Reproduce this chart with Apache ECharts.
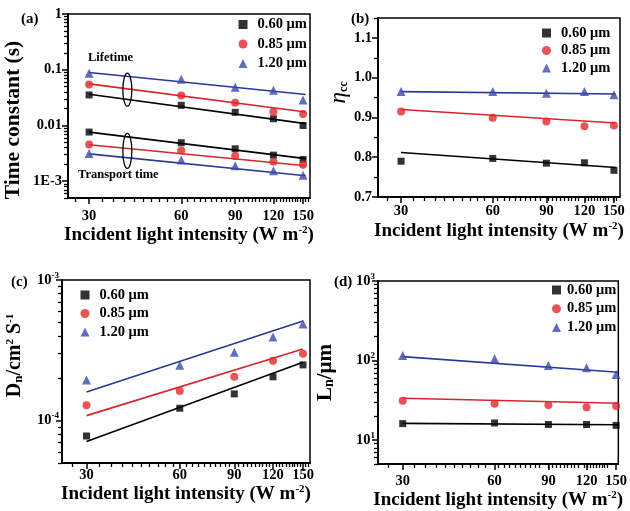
<!DOCTYPE html>
<html><head><meta charset="utf-8">
<script src="https://cdn.jsdelivr.net/npm/echarts@6/dist/echarts.min.js"></script>
<style>html,body{margin:0;padding:0;background:#fff}#c{width:630px;height:511px}</style>
</head><body><div id="c"></div><script>
// ---------- data ----------
const intensity = [30, 60, 90, 120, 150];
const xTickLabels = [30, 60, 90, 120, 150];
const seriesNames = ['0.60 \u03bcm', '0.85 \u03bcm', '1.20 \u03bcm'];

// (a) time constants (s)
const aLife060 = [0.0353, 0.0230, 0.0172, 0.0132, 0.0100];
const aLife085 = [0.0542, 0.0344, 0.0257, 0.0177, 0.0161];
const aLife120 = [0.0867, 0.0676, 0.0486, 0.0429, 0.0287];
const aTrans060 = [0.00762, 0.00490, 0.00382, 0.00294, 0.00245];
const aTrans085 = [0.00457, 0.00356, 0.00282, 0.00224, 0.00197];
const aTrans120 = [0.00315, 0.00240, 0.00190, 0.00154, 0.00128];
const aFitX = [30, 153];
const aFitLife060 = [0.0363, 0.0108];
const aFitLife085 = [0.0557, 0.0175];
const aFitLife120 = [0.089, 0.0360];
const aFitTrans060 = [0.0076, 0.00254];
const aFitTrans085 = [0.00452, 0.00190];
const aFitTrans120 = [0.0031, 0.00125];
const aYLabels = [0.001, 0.01, 0.1, 1];

// (b) charge collection efficiency
const b060 = [0.790, 0.797, 0.785, 0.786, 0.767];
const b085 = [0.915, 0.899, 0.890, 0.878, 0.880];
const b120 = [0.965, 0.965, 0.961, 0.965, 0.957];
const bFitX = [30, 152];
const bFit060 = [0.812, 0.774];
const bFit085 = [0.920, 0.886];
const bFit120 = [0.965, 0.959];

// (c) diffusion coefficient
const c060 = [7.78e-5, 1.225e-4, 1.55e-4, 2.05e-4, 2.49e-4];
const c085 = [1.285e-4, 1.626e-4, 2.05e-4, 2.67e-4, 2.99e-4];
const c120 = [1.945e-4, 2.48e-4, 3.07e-4, 3.94e-4, 4.87e-4];
const cFitX = [30, 150];
const cFit060 = [7.1e-5, 2.6e-4];
const cFit085 = [1.086e-4, 3.23e-4];
const cFit120 = [1.6e-4, 5.12e-4];
const cYLabels = [1e-4, 1e-3];

// (d) diffusion length
const d060 = [16.1, 16.4, 15.7, 15.7, 15.3];
const d085 = [31.3, 28.7, 27.6, 25.8, 26.8];
const d120 = [115.6, 105, 86.5, 81, 66.5];
const dFitX = [30, 152];
const dFit060 = [16.2, 15.6];
const dFit085 = [33.5, 29.0];
const dFit120 = [112, 71.3];
const dYLabels = [10, 100, 1000];

// ---------- style ----------
const F = '"Liberation Serif", "DejaVu Serif", serif';
const BLACK = '#000000', RED = '#e3282c', BLUE = '#3b48ad';
const RED_L = '#d4262a', BLUE_L = '#2c3896';
const colors = [BLACK, RED, BLUE];
const lineColors = [BLACK, RED_L, BLUE_L];
const symbols = ['rect', 'circle', 'triangle'];
const sizes = [7, 8, 9];

const grids = [
  {left: 68, top: 14, width: 242, height: 184},
  {left: 378, top: 18, width: 242, height: 179},
  {left: 62, top: 280, width: 248, height: 183},
  {left: 378, top: 281, width: 242, height: 183}
];
const xRanges = [[25.6, 158], [25.2, 157], [25, 158], [24.9, 152.5]];

// minor tick positions
const xMinor = [];
for (let v = 27; v <= 159; v += 3) if (v % 30 !== 0) xMinor.push(v);
function logMinors(lo, hi) {
  const out = [];
  for (let e = -6; e <= 4; e++) for (let m = 2; m <= 9; m++) {
    const v = m * Math.pow(10, e);
    if (v >= lo * 0.999 && v <= hi * 1.001) out.push(v);
  }
  return out;
}

const axisLineStyle = {color: '#000', width: 1.5};
const minorTickStyle = {color: '#000', width: 1.3};
const xName = '{t|Incident light intensity (W m}{s|-2}{t|)}';
const xNameRich = {
  t: {fontFamily: F, fontWeight: 'bold', fontSize: 19, color: '#000'},
  s: {fontFamily: F, fontWeight: 'bold', fontSize: 11, color: '#000', verticalAlign: 'top', padding: [0, 0, 10, 0]}
};
const xLabelMargins = [11, 7, 5, 10];
const xNameGaps = [23, 24, 18, 25];

const xAxes = [], yAxes = [];
// minor-tick axes first (grids 0-3), main axes after (grids 4-7)
for (let i = 0; i < 4; i++) {
  xAxes.push({
    type: 'log', gridIndex: i, min: xRanges[i][0], max: xRanges[i][1],
    axisLine: {lineStyle: {color: '#000', width: 1.5}},
    axisTick: {length: 4, customValues: xMinor, lineStyle: minorTickStyle},
    axisLabel: {color: 'rgba(0,0,0,0)'}, splitLine: {show: false}
  });
}
for (let i = 0; i < 4; i++) {
  xAxes.push({
    type: 'log', logBase: 10, gridIndex: 4 + i, min: xRanges[i][0], max: xRanges[i][1],
    axisLine: {show: true, onZero: false, lineStyle: axisLineStyle},
    axisTick: {show: true, inside: false, length: 6, customValues: xTickLabels, lineStyle: axisLineStyle},
    axisLabel: {show: true, customValues: xTickLabels, margin: xLabelMargins[i],
      formatter: v => String(Math.round(v)),
      color: '#000', fontFamily: F, fontWeight: 'bold', fontSize: 14.5},
    splitLine: {show: false}, minorTick: {show: false},
    name: xName, nameLocation: 'middle', nameGap: xNameGaps[i],
    nameTextStyle: {rich: xNameRich}
  });
}

// minor y axes
const yMinorDefs = [
  {type: 'log', min: 5e-4, max: 1, ticks: logMinors(5e-4, 1)},
  {type: 'value', min: 0.7, max: 1.15, ticks: [0.75, 0.85, 0.95, 1.05, 1.15]},
  {type: 'log', min: 5e-5, max: 1e-3, ticks: logMinors(5e-5, 1e-3)},
  {type: 'log', min: 5, max: 1000, ticks: logMinors(5, 1000)}
];
yMinorDefs.forEach((d, i) => {
  yAxes.push({
    type: d.type, gridIndex: i, min: d.min, max: d.max,
    axisLine: {lineStyle: {color: '#000', width: 1.5}},
    axisTick: {length: 4, customValues: d.ticks, lineStyle: minorTickStyle},
    axisLabel: {color: 'rgba(0,0,0,0)'}, splitLine: {show: false}
  });
});

const yLabelStyle = {color: '#000', fontFamily: F, fontWeight: 'bold', fontSize: 14.5};
const supRich = {
  b: {fontFamily: F, fontWeight: 'bold', fontSize: 14.5, color: '#000'},
  p: {fontFamily: F, fontWeight: 'bold', fontSize: 9, color: '#000', verticalAlign: 'top', padding: [0, 0, 9, 0]}
};
function powLabel(v) {
  const e = Math.round(Math.log10(v));
  return '{b|10}{p|' + e + '}';
}

// (a)
yAxes.push({
  type: 'log', logBase: 10, gridIndex: 4, min: 5e-4, max: 1,
  axisLine: {show: true, onZero: false, lineStyle: axisLineStyle},
  axisTick: {show: true, inside: false, length: 6, customValues: aYLabels, lineStyle: axisLineStyle},
  axisLabel: Object.assign({customValues: aYLabels, margin: 6, formatter: v => {
    const e = Math.round(Math.log10(v));
    return e === 0 ? '1' : e === -1 ? '0.1' : e === -2 ? '0.01' : '1E' + e;
  }}, yLabelStyle),
  splitLine: {show: false},
  name: 'Time constant (s)', nameLocation: 'middle', nameGap: 44,
  nameTextStyle: {fontFamily: F, fontWeight: 'bold', fontSize: 21.5, color: '#000', padding: [0, 28, 0, 0]}
});
// (b)
yAxes.push({
  type: 'value', gridIndex: 5, min: 0.7, max: 1.15, interval: 0.1,
  axisLine: {show: true, onZero: false, lineStyle: axisLineStyle},
  axisTick: {show: true, inside: false, length: 6, lineStyle: axisLineStyle},
  axisLabel: Object.assign({margin: 6, formatter: v => v.toFixed(1), showMaxLabel: false}, yLabelStyle),
  splitLine: {show: false},
  name: '{e|\u03b7}{s|cc}', nameLocation: 'middle', nameGap: 24,
  nameTextStyle: {padding: [0, 0, 0, 30], rich: {
    e: {fontFamily: F, fontStyle: 'italic', fontSize: 23, color: '#000'},
    s: {fontFamily: F, fontWeight: 'bold', fontSize: 12, color: '#000', verticalAlign: 'bottom', padding: [7, 0, 0, 0]}
  }}
});
// (c)
yAxes.push({
  type: 'log', logBase: 10, gridIndex: 6, min: 5e-5, max: 1e-3,
  axisLine: {show: true, onZero: false, lineStyle: axisLineStyle},
  axisTick: {show: true, inside: false, length: 6, customValues: cYLabels, lineStyle: axisLineStyle},
  axisLabel: {customValues: cYLabels, margin: 3, formatter: powLabel, rich: supRich},
  splitLine: {show: false},
  name: '{t|D}{s|n}{t|/cm}{p|2}{t| S}{p|-1}', nameLocation: 'middle', nameGap: 37,
  nameTextStyle: {padding: [0, 0, 0, 32], rich: {
    t: {fontFamily: F, fontWeight: 'bold', fontSize: 20, color: '#000'},
    s: {fontFamily: F, fontWeight: 'bold', fontSize: 13, color: '#000', verticalAlign: 'bottom', padding: [7, 0, 0, 0]},
    p: {fontFamily: F, fontWeight: 'bold', fontSize: 11, color: '#000', verticalAlign: 'top', padding: [0, 0, 9, 0]}
  }}
});
// (d)
yAxes.push({
  type: 'log', logBase: 10, gridIndex: 7, min: 5, max: 1000,
  axisLine: {show: true, onZero: false, lineStyle: axisLineStyle},
  axisTick: {show: true, inside: false, length: 6, customValues: dYLabels, lineStyle: axisLineStyle},
  axisLabel: {customValues: dYLabels, margin: 3, formatter: powLabel, rich: supRich},
  splitLine: {show: false},
  name: '{t|L}{s|n}{t|/\u03bcm}', nameLocation: 'middle', nameGap: 42,
  nameTextStyle: {rich: {
    t: {fontFamily: F, fontWeight: 'bold', fontSize: 21, color: '#000'},
    s: {fontFamily: F, fontWeight: 'bold', fontSize: 14, color: '#000', verticalAlign: 'bottom', padding: [7, 0, 0, 0]}
  }}
});

const allGrids = grids.map(g => Object.assign({}, g))
  .concat(grids.map(g => Object.assign({show: true, borderColor: '#000', borderWidth: 1.5, backgroundColor: 'transparent'}, g)));

// ---------- series ----------
const series = [];
function addScatter(p, k, ys) {
  series.push({
    type: 'scatter', name: seriesNames[k], xAxisIndex: 4 + p, yAxisIndex: 4 + p,
    data: intensity.map((x, i) => [x, ys[i]]),
    symbol: symbols[k], symbolSize: sizes[k], itemStyle: {color: colors[k]}, z: 4
  });
}
function addFit(p, k, xs, ys) {
  series.push({
    type: 'line', name: 'fit', xAxisIndex: 4 + p, yAxisIndex: 4 + p,
    data: xs.map((x, i) => [x, ys[i]]), symbol: 'none', silent: true,
    lineStyle: {color: lineColors[k], width: 1.6}, z: 3
  });
}
[aLife060, aLife085, aLife120].forEach((d, k) => addScatter(0, k, d));
[aTrans060, aTrans085, aTrans120].forEach((d, k) => addScatter(0, k, d));
[aFitLife060, aFitLife085, aFitLife120].forEach((d, k) => addFit(0, k, aFitX, d));
[aFitTrans060, aFitTrans085, aFitTrans120].forEach((d, k) => addFit(0, k, aFitX, d));
[b060, b085, b120].forEach((d, k) => addScatter(1, k, d));
[bFit060, bFit085, bFit120].forEach((d, k) => addFit(1, k, bFitX, d));
[c060, c085, c120].forEach((d, k) => addScatter(2, k, d));
[cFit060, cFit085, cFit120].forEach((d, k) => addFit(2, k, cFitX, d));
[d060, d085, d120].forEach((d, k) => addScatter(3, k, d));
[dFit060, dFit085, dFit120].forEach((d, k) => addFit(3, k, dFitX, d));
// invisible helper series so the minor-tick axes are laid out
[aLife060, b060, c060, d060].forEach((d, i) => {
  series.push({
    type: 'scatter', name: 'minor-helper', xAxisIndex: i, yAxisIndex: i,
    data: intensity.map((x, j) => [x, d[j]]), symbolSize: 1, silent: true,
    itemStyle: {opacity: 0}, z: 0
  });
});

// ---------- legends ----------
const legendDefs = [
  {left: 238.5, top: 17, gap: 4.5, pad: 5},
  {left: 542, top: 25.5, gap: 2.5, pad: 5},
  {left: 80.5, top: 287.5, gap: 3.5, pad: 5},
  {left: 552, top: 282.5, gap: 3.7, pad: 1}
];
const legends = legendDefs.map(l => ({
  data: seriesNames, orient: 'vertical', left: l.left, top: l.top, itemGap: l.gap,
  itemWidth: 9, itemHeight: 9, padding: 0, selectedMode: false,
  textStyle: {fontFamily: F, fontWeight: 'bold', fontSize: 14.5, color: '#000', lineHeight: 14, padding: [0, 0, 0, l.pad]}
}));

const chart = echarts.init(document.getElementById('c'), null, {renderer: 'canvas'});
chart.setOption({
  animation: false, backgroundColor: '#fff',
  grid: allGrids, xAxis: xAxes, yAxis: yAxes, legend: legends, series: series
});

// ---------- annotations ----------
const pLife = chart.convertToPixel({xAxisIndex: 4, yAxisIndex: 4}, [40, 0.0438]);
const pTrans = chart.convertToPixel({xAxisIndex: 4, yAxisIndex: 4}, [40, 0.00349]);
const labelFont = {fontFamily: F, fontWeight: 'bold', fontSize: 15, fill: '#000'};
chart.setOption({
  graphic: [
    {type: 'ellipse', shape: {cx: pLife[0], cy: pLife[1], rx: 4.5, ry: 16.5}, style: {fill: 'none', stroke: '#000', lineWidth: 1.3}, z: 10},
    {type: 'ellipse', shape: {cx: pTrans[0], cy: pTrans[1], rx: 4.5, ry: 17.5}, style: {fill: 'none', stroke: '#000', lineWidth: 1.3}, z: 10},
    {type: 'text', left: 88, top: 51, style: {text: 'Lifetime', fontFamily: F, fontWeight: 'bold', fontSize: 12.5, fill: '#000'}},
    {type: 'text', left: 78, top: 168, style: {text: 'Transport time', fontFamily: F, fontWeight: 'bold', fontSize: 12.5, fill: '#000'}},
    {type: 'text', left: 21, top: 12, style: Object.assign({text: '(a)'}, labelFont)},
    {type: 'text', left: 351, top: 12, style: Object.assign({text: '(b)'}, labelFont)},
    {type: 'text', left: 11, top: 275, style: Object.assign({text: '(c)'}, labelFont)},
    {type: 'text', left: 334, top: 275, style: Object.assign({text: '(d)'}, labelFont)}
  ]
});
</script></body></html>
